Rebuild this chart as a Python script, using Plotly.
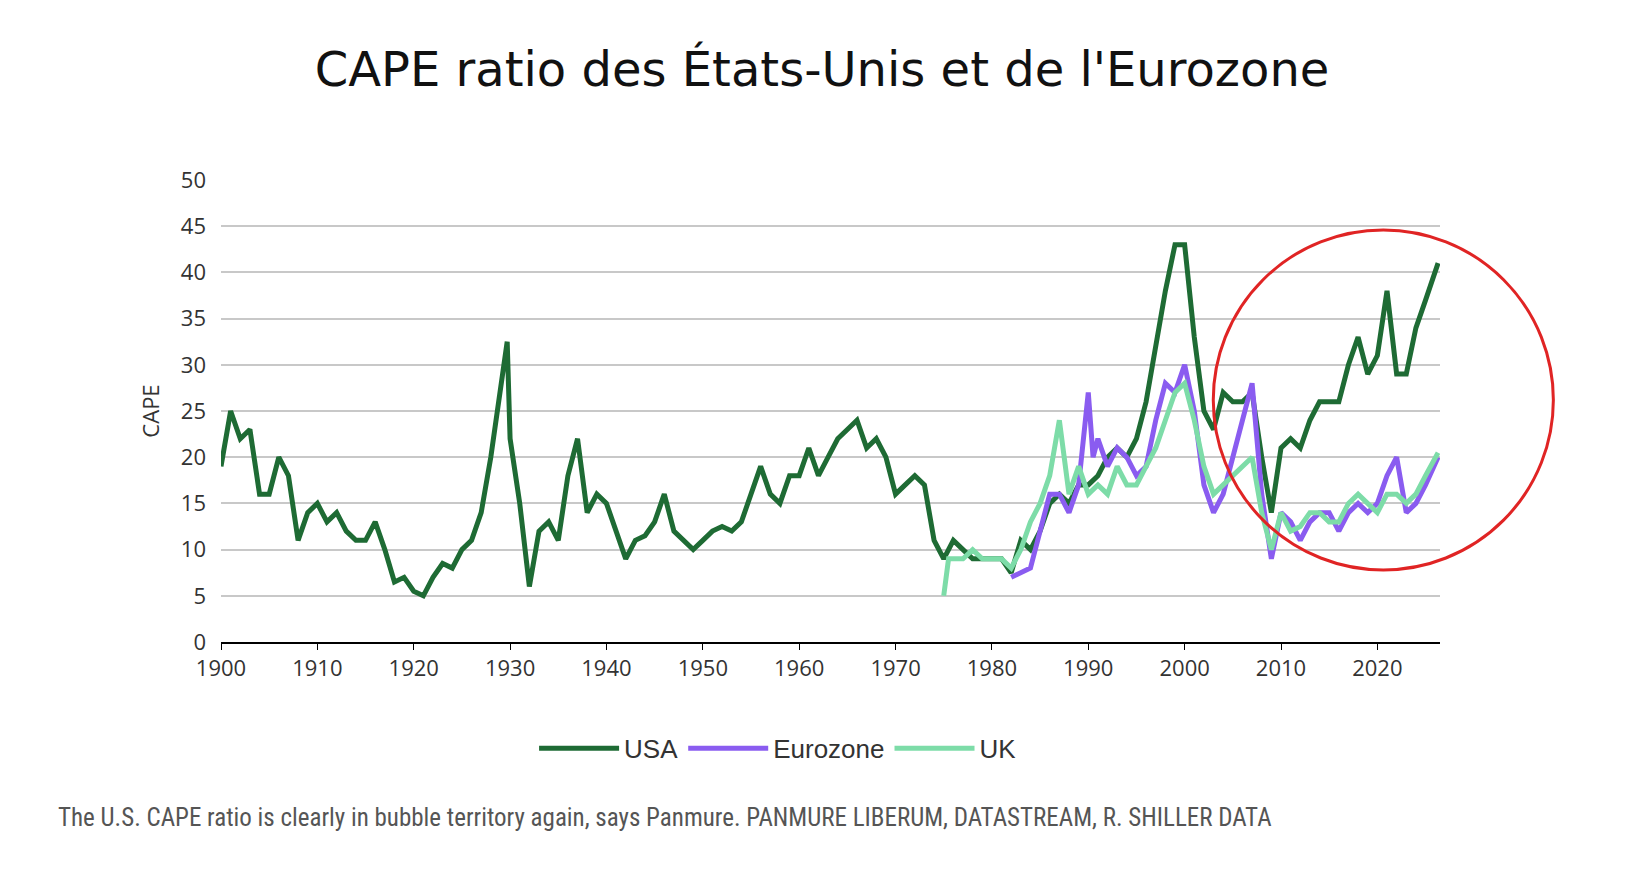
import plotly.graph_objects as go

usa_years = [1900, 1901, 1902, 1903, 1904, 1905, 1906, 1907, 1908, 1909, 1910, 1911, 1912, 1913, 1914,
             1915, 1916, 1917, 1918, 1919, 1920, 1921, 1922, 1923, 1924, 1925, 1926, 1927, 1928, 1929,
             1929.7, 1930, 1931, 1932, 1933, 1934, 1935, 1936, 1937, 1938, 1939, 1940, 1941, 1942, 1943,
             1944, 1945, 1946, 1947, 1948, 1949, 1950, 1951, 1952, 1953, 1954, 1955, 1956, 1957, 1958,
             1959, 1960, 1961, 1962, 1963, 1964, 1965, 1966, 1967, 1968, 1969, 1970, 1971, 1972, 1973,
             1974, 1975, 1976, 1977, 1978, 1979, 1980, 1981, 1982, 1983, 1984, 1985, 1986, 1987, 1988,
             1989, 1990, 1991, 1992, 1993, 1994, 1995, 1996, 1997, 1998, 1999, 2000, 2001, 2002, 2003,
             2004, 2005, 2006, 2007, 2008, 2009, 2010, 2011, 2012, 2013, 2014, 2015, 2016, 2017, 2018,
             2019, 2020, 2021, 2022, 2023, 2024, 2025, 2026.3]
usa_cape = [19, 25, 22, 23, 16, 16, 20, 18, 11, 14, 15, 13, 14, 12, 11,
            11, 13, 10, 6.5, 7, 5.5, 5, 7, 8.5, 8, 10, 11, 14, 20, 27,
            32.5, 22, 15, 6, 12, 13, 11, 18, 22, 14, 16, 15, 12, 9, 11,
            11.5, 13, 16, 12, 11, 10, 11, 12, 12.5, 12, 13, 16, 19, 16, 15,
            18, 18, 21, 18, 20, 22, 23, 24, 21, 22, 20, 16, 17, 18, 17,
            11, 9, 11, 10, 9, 9, 9, 9, 7.5, 11, 10, 12, 15, 16, 15,
            17, 17, 18, 20, 21, 20, 22, 26, 32, 38, 43, 43, 33, 25, 23,
            27, 26, 26, 27, 20, 14, 21, 22, 21, 24, 26, 26, 26, 30, 33,
            29, 31, 38, 29, 29, 34, 37, 41]

ez_years = [1982, 1983, 1984, 1985, 1986, 1987, 1988, 1989, 1990, 1990.5, 1991, 1992, 1993, 1994, 1995,
            1996, 1997, 1998, 1999, 2000, 2001, 2002, 2003, 2004, 2005, 2006, 2007, 2008, 2009, 2010,
            2011, 2012, 2013, 2014, 2015, 2016, 2017, 2018, 2019, 2020, 2021, 2022, 2023, 2024, 2025, 2026.3]
ez_cape = [7, 7.5, 8, 12, 16, 16, 14, 17, 27, 20, 22, 19, 21, 20, 18,
           19, 24, 28, 27, 30, 25, 17, 14, 16, 20, 24, 28, 16, 9, 14,
           13, 11, 13, 14, 14, 12, 14, 15, 14, 15, 18, 20, 14, 15, 17, 20]

uk_years = [1975, 1975.5, 1976, 1977, 1978, 1979, 1980, 1981, 1982, 1983, 1984, 1985, 1986, 1987, 1988,
            1989, 1990, 1991, 1992, 1993, 1994, 1995, 1996, 1997, 1998, 1999, 2000, 2001, 2002, 2003,
            2004, 2005, 2006, 2007, 2008, 2009, 2010, 2011, 2012, 2013, 2014, 2015, 2016, 2017, 2018,
            2019, 2020, 2021, 2022, 2023, 2024, 2025, 2026.3]
uk_cape = [5, 9, 9, 9, 10, 9, 9, 9, 8, 10, 13, 15, 18, 24, 16,
           19, 16, 17, 16, 19, 17, 17, 19, 21, 24, 27, 28, 24, 19, 16,
           17, 18, 19, 20, 14, 10, 14, 12, 12.5, 14, 14, 13, 13, 15, 16,
           15, 14, 16, 16, 15, 16, 18, 20.5]

fig = go.Figure()
fig.add_trace(go.Scatter(x=usa_years, y=usa_cape, mode="lines", name="USA",
                         line=dict(color="#1e6b34", width=5)))
fig.add_trace(go.Scatter(x=ez_years, y=ez_cape, mode="lines", name="Eurozone",
                         line=dict(color="#8a5cf0", width=5)))
fig.add_trace(go.Scatter(x=uk_years, y=uk_cape, mode="lines", name="UK",
                         line=dict(color="#7ddca8", width=5)))

# red hand-drawn circle around recent years
fig.add_shape(type="circle", xref="paper", yref="paper",
              x0=0.814, x1=1.093, y0=0.156, y1=0.892,
              line=dict(color="#e02424", width=3))

fig.add_annotation(text="The U.S. CAPE ratio is clearly in bubble territory again, says Panmure. PANMURE LIBERUM, DATASTREAM, R. SHILLER DATA",
                   xref="paper", yref="paper", x=-0.135, y=-0.38, xanchor="left", yanchor="middle",
                   showarrow=False, font=dict(size=25, color="#555555", family="Roboto Condensed, Roboto"))

fig.update_layout(
    width=1628, height=878,
    paper_bgcolor="white", plot_bgcolor="white",
    margin=dict(l=213, r=196, t=172, b=244),
    title=dict(text="CAPE ratio des États-Unis et de l'Eurozone", x=0.5, xanchor="center",
               y=0.95, font=dict(size=48, color="#111111", family="DejaVu Sans")),
    legend=dict(orientation="h", x=0.457, xanchor="center", y=-0.23, yanchor="middle",
                font=dict(size=26, color="#333333", family="Arial, Liberation Sans"),
                itemwidth=80),
    showlegend=True,
)
fig.update_xaxes(range=[1900, 2026.5], tickvals=list(range(1900, 2021, 10)), showgrid=False,
                 showline=True, linecolor="black", linewidth=2, ticks="outside", ticklen=6,
                 tickcolor="black", tickfont=dict(size=22, color="#333333"))
fig.update_yaxes(range=[0, 50], dtick=5, showgrid=True, gridcolor="#c8c8c8", gridwidth=2,
                 zeroline=False, ticklabelstandoff=14,
                 title=dict(text="CAPE", font=dict(size=22, color="#333333")),
                 tickfont=dict(size=22, color="#333333"))

fig.write_html("out.html")
